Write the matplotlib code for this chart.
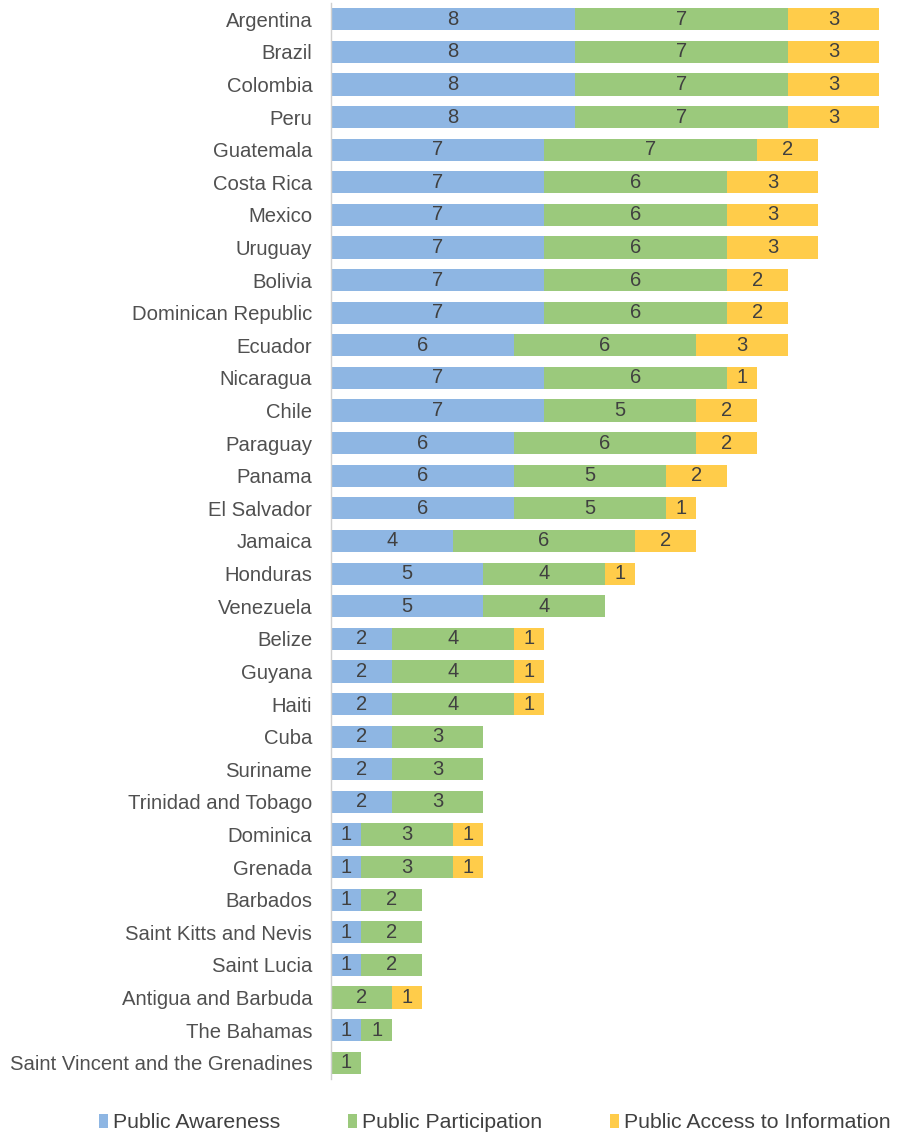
import matplotlib
matplotlib.use("Agg")
import matplotlib.pyplot as plt
from matplotlib.patches import Patch

plt.rcParams['font.family'] = ['Liberation Sans', 'DejaVu Sans']

countries = ["Argentina", "Brazil", "Colombia", "Peru", "Guatemala", "Costa Rica", "Mexico",
             "Uruguay", "Bolivia", "Dominican Republic", "Ecuador", "Nicaragua", "Chile",
             "Paraguay", "Panama", "El Salvador", "Jamaica", "Honduras", "Venezuela", "Belize",
             "Guyana", "Haiti", "Cuba", "Suriname", "Trinidad and Tobago", "Dominica", "Grenada",
             "Barbados", "Saint Kitts and Nevis", "Saint Lucia", "Antigua and Barbuda",
             "The Bahamas", "Saint Vincent and the Grenadines"]
awareness = [8, 8, 8, 8, 7, 7, 7, 7, 7, 7, 6, 7, 7, 6, 6, 6, 4, 5, 5, 2, 2, 2, 2, 2, 2, 1, 1, 1, 1, 1, 0, 1, 0]
participation = [7, 7, 7, 7, 7, 6, 6, 6, 6, 6, 6, 6, 5, 6, 5, 5, 6, 4, 4, 4, 4, 4, 3, 3, 3, 3, 3, 2, 2, 2, 2, 1, 1]
access = [3, 3, 3, 3, 2, 3, 3, 3, 2, 2, 3, 1, 2, 2, 2, 1, 2, 1, 0, 1, 1, 1, 0, 0, 0, 1, 1, 0, 0, 0, 1, 0, 0]
series_names = ["Public Awareness", "Public Participation", "Public Access to Information"]
colors = ["#8EB6E3", "#9BC97C", "#FFCC4A"]

W, H = 899, 1136
fig = plt.figure(figsize=(W / 100, H / 100), dpi=100)
ax = fig.add_axes([331 / W, 1 - 1079 / H, (879 - 331) / W, (1079 - 3) / H])

n = len(countries)
ys = list(range(n))
left = [0] * n
text_color = "#404040"
for vals, col in zip([awareness, participation, access], colors):
    ax.barh(ys, vals, left=left, height=0.68, color=col, edgecolor='none')
    for y, v, l in zip(ys, vals, left):
        if v > 0:
            ax.text(l + v / 2, y, str(v), ha='center', va='center', fontsize=14.5, color=text_color)
    left = [a + b for a, b in zip(left, vals)]

ax.set_xlim(0, 18)
ax.set_ylim(n - 0.5, -0.5)
ax.set_yticks(ys)
ax.set_yticklabels(countries, fontsize=14.6, color="#505050")
ax.tick_params(axis='y', length=0, pad=13.5)
ax.set_xticks([])
for s in ['top', 'right', 'bottom']:
    ax.spines[s].set_visible(False)
ax.spines['left'].set_color("#D0D0D0")
ax.spines['left'].set_linewidth(1.0)

handles = [Patch(facecolor=c, edgecolor='none', label=l) for c, l in zip(colors, series_names)]
fig.legend(handles=handles, loc='center', bbox_to_anchor=(0.5506, 1 - 1123 / H), ncol=3,
           frameon=False, fontsize=15.3, handlelength=0.4, handleheight=0.6, handletextpad=0.25,
           columnspacing=3.2, labelcolor="#404040")

fig.savefig("out.png", dpi=100)
